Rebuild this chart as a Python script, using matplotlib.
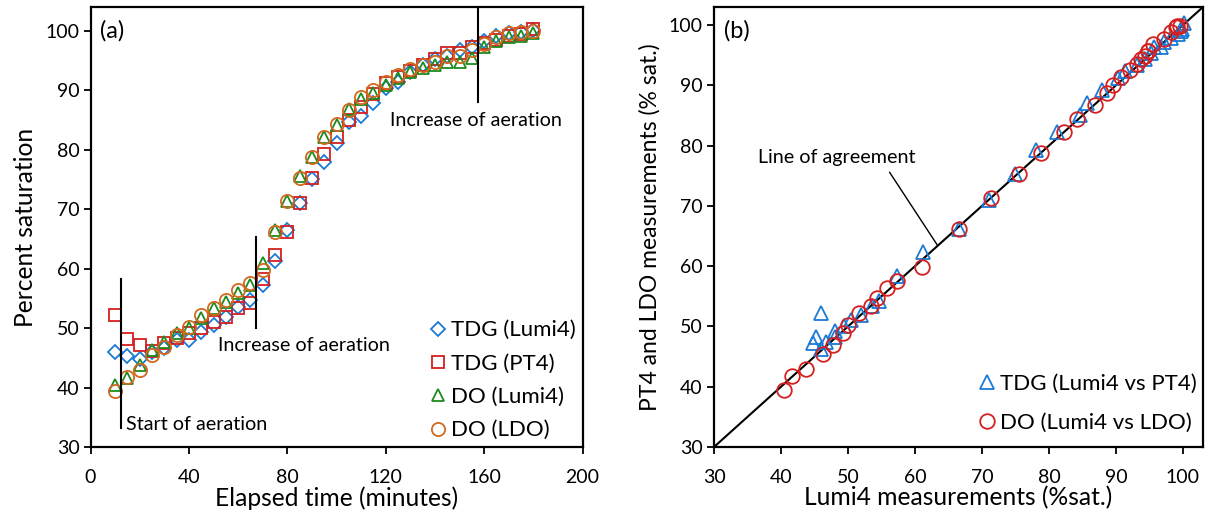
import matplotlib
matplotlib.use("Agg")
import matplotlib.pyplot as plt

plt.rcParams['font.family'] = ['Lato', 'DejaVu Sans']

# sampling times (minutes)
elapsed_min = [10, 15, 20, 25, 30, 35, 40, 45, 50, 55, 60, 65, 70, 75, 80, 85, 90,
               95, 100, 105, 110, 115, 120, 125, 130, 135, 140, 145, 150, 155, 160,
               165, 170, 175, 180]

# percent saturation readings
tdg_lumi4 = [46.0, 45.3, 44.8, 46.0, 46.7, 48.0, 48.0, 49.4, 50.5, 51.9, 53.6, 54.7,
             57.3, 61.2, 66.5, 71.0, 75.0, 78.0, 81.2, 84.7, 85.7, 87.9, 90.3, 91.4,
             93.1, 94.3, 95.2, 95.7, 96.8, 97.2, 98.2, 99.2, 99.7, 99.8, 100.1]
tdg_pt4 = [52.2, 48.2, 47.2, 46.2, 47.5, 48.3, 49.2, 50.0, 51.0, 51.9, 53.4, 54.2,
           58.3, 62.3, 66.2, 71.0, 75.3, 79.2, 82.2, 85.0, 87.1, 89.3, 91.3, 92.3,
           93.3, 94.3, 95.3, 96.3, 96.3, 97.2, 97.9, 98.5, 99.1, 99.4, 100.3]
do_lumi4 = [40.4, 41.6, 43.8, 46.3, 47.7, 49.2, 50.0, 51.7, 53.4, 54.4, 55.9, 57.3,
            61.0, 66.5, 71.3, 75.5, 78.8, 82.2, 84.2, 86.9, 88.6, 89.6, 90.8, 92.1,
            93.1, 93.8, 94.3, 94.8, 94.8, 95.5, 97.2, 98.2, 98.9, 99.1, 99.6]
do_ldo = [39.4, 41.8, 43.0, 45.5, 46.9, 48.9, 50.2, 52.2, 53.4, 54.7, 56.4, 57.6,
          59.8, 66.2, 71.3, 75.3, 78.8, 82.2, 84.4, 86.7, 88.8, 90.1, 91.4, 92.5,
          93.6, 94.3, 94.8, 95.7, 95.7, 96.8, 97.7, 98.9, 99.7, 99.8, 99.9]

left_labels = ['TDG (Lumi4)', 'TDG (PT4)', 'DO (Lumi4)', 'DO (LDO)']
right_labels = ['TDG (Lumi4 vs PT4)', 'DO (Lumi4 vs LDO)']

BLUE = '#1a7ad4'
RED = '#d42020'
GREEN = '#1e8a1e'
ORANGE = '#d2691e'

fig = plt.figure(figsize=(12.1, 5.2), dpi=100)
ax1 = fig.add_axes([90.5 / 1210, 73 / 520, 492 / 1210, 440 / 520])
ax2 = fig.add_axes([714 / 1210, 73 / 520, 489 / 1210, 440 / 520])

# ---- (a) time series
mk = dict(linestyle='none', markerfacecolor='none', markeredgewidth=1.3)
ax1.plot(elapsed_min, tdg_lumi4, marker='D', ms=7, color=BLUE, label=left_labels[0], **mk)
ax1.plot(elapsed_min, tdg_pt4, marker='s', ms=8, color=RED, label=left_labels[1], **mk)
ax1.plot(elapsed_min, do_lumi4, marker='^', ms=8, color=GREEN, label=left_labels[2], **mk)
ax1.plot(elapsed_min, do_ldo, marker='o', ms=9.5, color=ORANGE, label=left_labels[3], **mk)

# aeration events
ax1.plot([12.4, 12.4], [33.2, 58.3], color='black', lw=1.5)
ax1.plot([67.4, 67.4], [50.0, 65.3], color='black', lw=1.5)
ax1.plot([157.6, 157.6], [88.1, 104], color='black', lw=1.5)
ax1.text(14.3, 33.8, 'Start of aeration', fontsize=14.2, va='center', ha='left')
ax1.text(51.8, 47.0, 'Increase of aeration', fontsize=14.2, va='center', ha='left')
ax1.text(121.8, 84.9, 'Increase of aeration', fontsize=14.2, va='center', ha='left')
ax1.text(0.02, 0.945, '(a)', transform=ax1.transAxes, fontsize=17, va='center', ha='left')

ax1.set_xlim(0, 200)
ax1.set_ylim(30, 104)
ax1.set_xticks(range(0, 201, 40))
ax1.set_yticks(range(30, 101, 10))
ax1.set_xlabel('Elapsed time (minutes)', fontsize=17.7, labelpad=0)
ax1.set_ylabel('Percent saturation', fontsize=17.7, labelpad=6)
ax1.legend(loc='lower right', frameon=False, fontsize=16, handlelength=0.55,
           handletextpad=0.3, labelspacing=0.6, borderaxespad=0.15, borderpad=0.15)

# ---- (b) agreement plot
ax2.plot([30, 103], [30, 103], color='black', lw=1.5, zorder=1)
ax2.plot(tdg_lumi4, tdg_pt4, marker='^', ms=10, color=BLUE, label=right_labels[0], **mk)
ax2.plot(do_lumi4, do_ldo, marker='o', ms=10.5, color=RED, label=right_labels[1], **mk)
ax2.annotate('', xy=(63.4, 63.4), xytext=(56.2, 75.6),
             arrowprops=dict(arrowstyle='-', color='black', lw=1.0, shrinkA=0, shrinkB=0))
ax2.text(48.3, 78.1, 'Line of agreement', fontsize=14.2, va='center', ha='center')
ax2.text(0.02, 0.945, '(b)', transform=ax2.transAxes, fontsize=17, va='center', ha='left')

ax2.set_xlim(30, 103)
ax2.set_ylim(30, 103)
ax2.set_xticks(range(30, 101, 10))
ax2.set_yticks(range(30, 101, 10))
ax2.set_xlabel('Lumi4 measurements (%sat.)', fontsize=17.7, labelpad=0)
ax2.set_ylabel('PT4 and LDO measurements (% sat.)', fontsize=16.5, labelpad=6)
ax2.legend(loc='lower right', bbox_to_anchor=(1.0, 8 / 440), frameon=False, fontsize=16,
           handlelength=0.55, handletextpad=0.3, labelspacing=0.85,
           borderaxespad=0.12, borderpad=0.15)

for ax in (ax1, ax2):
    for sp in ax.spines.values():
        sp.set_linewidth(1.6)
    ax.tick_params(direction='out', length=5, width=1.3, labelsize=14)
    ax.tick_params(axis='x', pad=11)
    ax.tick_params(axis='y', pad=3)

fig.savefig('out.png', dpi=100)
